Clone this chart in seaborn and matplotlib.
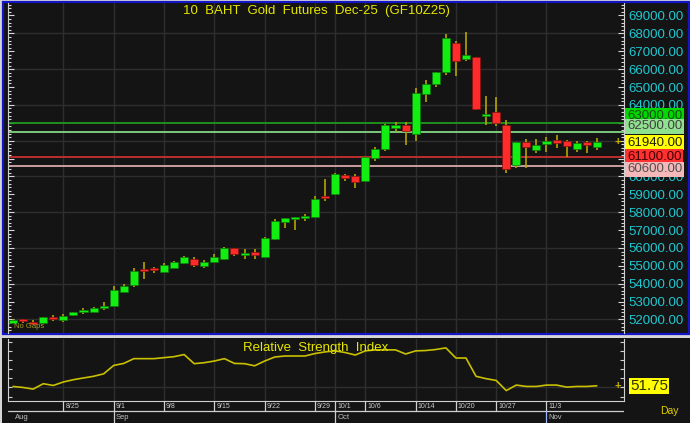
import numpy as np
import matplotlib
matplotlib.use("Agg")
import matplotlib.pyplot as plt
from matplotlib.patches import Rectangle
from matplotlib.ticker import MultipleLocator, FuncFormatter
import seaborn as sns

# trading days shown on the chart
dates = ['8/18', '8/19', '8/20', '8/21', '8/22', '8/25', '8/26', '8/27', '8/28', '8/29',
         '9/1', '9/2', '9/3', '9/4', '9/5', '9/8', '9/9', '9/10', '9/11', '9/12',
         '9/15', '9/16', '9/17', '9/18', '9/19', '9/22', '9/23', '9/24', '9/25', '9/26',
         '9/29', '9/30', '10/1', '10/2', '10/3', '10/6', '10/7', '10/8', '10/9', '10/10',
         '10/14', '10/15', '10/16', '10/17', '10/20', '10/21', '10/22', '10/24',
         '10/27', '10/28', '10/29', '10/30', '10/31',
         '11/3', '11/4', '11/5', '11/6', '11/7', '11/10']

opens = [51790, 51980, 51880, 51820, 52050, 51970, 52230, 52400, 52430, 52650,
         52780, 53560, 53930, 54800, 54800, 54650, 54880, 55180, 55380, 55000,
         55230, 55370, 55980, 55620, 55760, 55510, 56480, 57450, 57610, 57650,
         57750, 58890, 59000, 60060, 60000, 59740, 61010, 61550, 62720, 62890,
         62370, 64620, 65170, 65820, 67460, 66580, 66660, 63360, 63600, 62860,
         60650, 61910, 61480, 61810, 62050, 61980, 61530, 61910, 61660]
highs = [52050, 52025, 51970, 52130, 52265, 52320, 52440, 52620, 52680, 52960,
         53870, 53980, 54880, 55230, 54950, 55140, 55280, 55540, 55480, 55320,
         55640, 56070, 55990, 55940, 55920, 56600, 57630, 57680, 57750, 57870,
         58900, 59850, 60180, 60130, 60130, 61100, 61660, 62930, 63060, 63060,
         64930, 65390, 65830, 67960, 67570, 68060, 66680, 64500, 64460, 63150,
         61950, 62080, 62080, 62190, 62320, 62050, 61990, 62000, 62170]
lows = [51780, 51820, 51670, 51810, 51930, 51880, 52170, 52290, 52420, 52550,
        52770, 53540, 53830, 54250, 54580, 54640, 54860, 55090, 54930, 54890,
        55220, 55350, 55550, 55380, 55380, 55500, 56420, 57100, 57000, 57500,
        57710, 58640, 58980, 59730, 59340, 59730, 60860, 61440, 62500, 61760,
        62000, 64150, 65020, 65670, 65620, 66470, 63740, 62880, 62820, 60170,
        60450, 60450, 61330, 61380, 61570, 61100, 61380, 61330, 61480]
closes = [51960, 51940, 51770, 52120, 52000, 52210, 52420, 52470, 52620, 52760,
          53650, 53890, 54730, 54730, 54740, 55050, 55230, 55470, 55050, 55230,
          55490, 55980, 55670, 55720, 55600, 56540, 57510, 57660, 57690, 57750,
          58720, 58810, 60120, 59910, 59690, 61070, 61520, 62860, 62860, 62530,
          64680, 65170, 65820, 67720, 66470, 66770, 63750, 63420, 63010, 60400,
          61940, 61670, 61760, 62000, 61870, 61700, 61850, 61740, 61940]

rsi = [51.0, 49.9, 48.1, 54.0, 52.1, 55.9, 58.4, 60.3, 62.1, 64.8,
       74.0, 76.2, 81.4, 81.4, 81.4, 82.5, 83.6, 85.9, 75.9, 77.0,
       78.8, 81.4, 76.2, 75.9, 73.6, 78.8, 83.2, 84.3, 84.3, 84.3,
       87.0, 88.8, 89.9, 88.1, 85.4, 89.9, 91.0, 91.0, 91.0, 86.5,
       89.9, 90.3, 91.4, 93.2, 82.1, 82.1, 62.1, 59.5, 57.6, 46.5,
       52.5, 51.0, 51.0, 52.5, 52.5, 50.3, 51.0, 51.0, 51.75]

tick_dates = ['8/25', '9/1', '9/8', '9/15', '9/22', '9/29', '10/1', '10/6',
              '10/14', '10/20', '10/27', '11/3']
months = ['Aug', 'Sep', 'Oct', 'Nov']
month_starts = ['8/18', '9/1', '10/1', '11/3']

levels = [63000, 62500, 61100, 60600]
level_line_colors = ['#1e9a1e', '#86d886', '#c83030', '#d9a9a9']
last_price = 61940

W, H = 690, 423
BG = '#141414'
GRID = '#2e2e2e'
FONT = ['Liberation Sans', 'DejaVu Sans']


def px_rect(x0, y0, x1, y1):
    return [x0 / W, 1 - y1 / H, (x1 - x0) / W, (y1 - y0) / H]


def add_box(fig, x0, y0, x1, y1, **kw):
    r = Rectangle((x0 / W, 1 - y1 / H), (x1 - x0) / W, (y1 - y0) / H,
                  transform=fig.transFigure, **kw)
    fig.add_artist(r)


sns.set_style('dark', {'axes.facecolor': BG, 'figure.facecolor': '#d6d6d6'})
plt.rcParams['font.family'] = FONT

fig = plt.figure(figsize=(6.9, 4.23), dpi=100)

# panel backgrounds and borders
add_box(fig, 3, 2, 689, 334, facecolor=BG, edgecolor='#1414c8', lw=1.6, zorder=-5)
add_box(fig, 2, 338, 690, 423, facecolor=BG, edgecolor='none', zorder=-5)

x = np.arange(len(dates))
tick_idx = [dates.index(d) for d in tick_dates]
o = np.array(opens)
c = np.array(closes)
up = c >= o

# ---------------- main price panel ----------------
ax = fig.add_axes(px_rect(8, 3, 624, 333))
ax.set_facecolor(BG)
ax.set_xlim(-0.5, 60.7)
ax.set_ylim(51242, 69699)

for xi in tick_idx:
    ax.axvline(xi, color=GRID, lw=1, zorder=0)
for yv in range(52000, 69000, 2000):
    ax.axhline(yv, color=GRID, lw=1, zorder=0)

for lv, col in zip(levels, level_line_colors):
    ax.axhline(lv, color=col, lw=1.3, zorder=1)

ax.vlines(x, lows, highs, color='#b4a400', lw=1.2, zorder=2)
bottoms = np.minimum(o, c)
heights = np.maximum(np.abs(c - o), 110)
ax.bar(x[up], heights[up], bottom=bottoms[up], width=0.8,
       color='#12ee12', edgecolor='#0b7a0b', lw=0.5, zorder=3)
ax.bar(x[~up], heights[~up], bottom=bottoms[~up], width=0.8,
       color='#ff2a2a', edgecolor='#861010', lw=0.5, zorder=3)

ax.yaxis.tick_right()
ax.yaxis.set_major_locator(MultipleLocator(1000))
ax.yaxis.set_minor_locator(MultipleLocator(200))
hidden = {61000, 62000, 63000}
ax.yaxis.set_major_formatter(FuncFormatter(
    lambda v, p: '' if int(round(v)) in hidden else f'{v:.2f}'))
ax.tick_params(axis='y', which='both', direction='in', left=True, right=True,
               labelleft=False, labelright=True, colors='#d8d8d8',
               labelcolor='#1ec8d2', labelsize=9.5, pad=3)
ax.tick_params(axis='y', which='major', length=4, width=0.8)
ax.tick_params(axis='y', which='minor', length=2, width=0.8)
ax.tick_params(axis='x', bottom=False, labelbottom=False)
for s in ['top', 'bottom']:
    ax.spines[s].set_visible(False)
for s in ['left', 'right']:
    ax.spines[s].set_color('#d0d0d0')
    ax.spines[s].set_linewidth(0.8)
ax.grid(False)

ax.text(0.5, 0.975, '10  BAHT  Gold  Futures  Dec-25  (GF10Z25)', transform=ax.transAxes,
        ha='center', va='center', color='#e6e600', fontsize=9.5)
ax.text(0.01, 0.01, 'No Gaps', transform=ax.transAxes, ha='left', va='bottom',
        color='#a8a020', fontsize=5.5)

# price level boxes on the right axis
box_specs = [
    (63000, 7, '#00d800', '#184818'),
    (62500, 5.5, '#8fe08f', '#404040'),
    (last_price, -1, '#ffff00', '#202000'),
    (61100, 0, '#ff3030', '#3c0000'),
    (60600, -3.5, '#f4b8b8', '#505050'),
]
for lv, dy, fc, tc in box_specs:
    ax.annotate(f'{lv:.2f}', xy=(1, lv), xycoords=('axes fraction', 'data'),
                xytext=(3, dy), textcoords='offset pixels', ha='left', va='center',
                color=tc, fontsize=9.5, zorder=10, annotation_clip=False,
                bbox=dict(boxstyle='square,pad=0.12', fc=fc, ec='none'))
ax.annotate('+', xy=(0.99, last_price), xycoords=('axes fraction', 'data'),
            ha='center', va='center', color='#c8b400', fontsize=8, fontweight='bold')

# ---------------- RSI panel ----------------
ax2 = fig.add_axes(px_rect(8, 339, 624, 401))
ax2.set_facecolor(BG)
ax2.set_xlim(-0.5, 60.7)
ax2.set_ylim(35.1, 102.9)
for xi in tick_idx:
    ax2.axvline(xi, color=GRID, lw=1, zorder=0)
ax2.axhline(50, color=GRID, lw=1, zorder=0)
sns.lineplot(x=x, y=rsi, ax=ax2, color='#c8c000', lw=1.2)
ax2.text(0.5, 0.86, 'Relative  Strength  Index', transform=ax2.transAxes,
         ha='center', va='center', color='#e6e600', fontsize=9.5)
ax2.annotate('+', xy=(0.99, rsi[-1]), xycoords=('axes fraction', 'data'),
             ha='center', va='center', color='#c8b400', fontsize=8, fontweight='bold')
ax2.annotate(f'{rsi[-1]:.2f}', xy=(1, rsi[-1]), xycoords=('axes fraction', 'data'),
             xytext=(6, 0), textcoords='offset pixels', ha='left', va='center',
             color='#303000', fontsize=11, annotation_clip=False,
             bbox=dict(boxstyle='square,pad=0.08', fc='#ffff00', ec='none'))
ax2.yaxis.tick_right()
ax2.yaxis.set_major_locator(MultipleLocator(10))
ax2.tick_params(axis='y', which='both', direction='in', left=True, right=True,
                labelleft=False, labelright=False, colors='#d0d0d0', length=3, width=0.8)
ax2.tick_params(axis='x', bottom=False, labelbottom=False)
ax2.spines['top'].set_visible(False)
for s in ['left', 'right', 'bottom']:
    ax2.spines[s].set_color('#d0d0d0')
    ax2.spines[s].set_linewidth(0.8)
ax2.grid(False)
ax2.set_xlabel('')

# ---------------- date rows ----------------
ax3 = fig.add_axes(px_rect(8, 401, 624, 423))
ax3.set_facecolor(BG)
ax3.set_xlim(-0.5, 60.7)
ax3.set_ylim(0, 1)
ax3.axis('off')
ax3.axhline(0.55, color='#cfcfcf', lw=0.9)
for xi, lab in zip(tick_idx, tick_dates):
    ax3.plot([xi, xi], [0.55, 1], color='#cfcfcf', lw=0.9)
    ax3.text(xi + 0.2, 0.76, lab, ha='left', va='center', color='#cccccc', fontsize=5)
for m, d in zip(months, month_starts):
    xi = dates.index(d)
    if xi > 0:
        ax3.plot([xi, xi], [0, 0.55], color='#9ab8ff' if m == 'Nov' else '#cfcfcf', lw=0.9)
    ax3.text(xi + 0.2, 0.26, m, ha='left', va='center', color='#c0c0c0', fontsize=5.5)

fig.text(669 / W, 1 - 411 / H, 'Day', ha='center', va='center', color='#e0d000', fontsize=7.5)

fig.savefig('out.png', dpi=100, facecolor=fig.get_facecolor())
